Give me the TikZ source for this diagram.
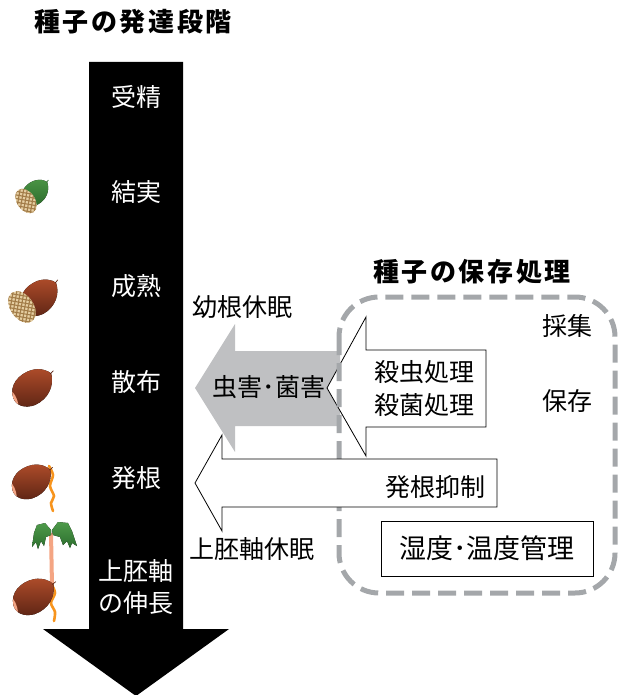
\documentclass[tikz,border=0pt]{standalone}
\usepackage{fontspec}
\setmainfont{Noto Sans CJK JP}

\definecolor{arrowgray}{HTML}{BFC0C2}
\definecolor{dashgray}{HTML}{A4A7AA}
\definecolor{seedtop}{HTML}{AE4C2A}
\definecolor{seedbot}{HTML}{5C2414}
\definecolor{greentop}{HTML}{4A9444}
\definecolor{greenbot}{HTML}{2C6A2C}
\definecolor{hilum}{HTML}{F2A585}
\definecolor{leafA}{HTML}{4E9A4A}
\definecolor{leafB}{HTML}{2C6E2E}
\definecolor{capfill}{HTML}{E6CFA3}
\definecolor{capline}{HTML}{A27C48}
\definecolor{rootc}{HTML}{F7941D}
\definecolor{stemc}{HTML}{F4A583}

% outline of a seed, pointed end to the right, local units
\def\seedoutline{(-21,3) .. controls (-21,-10) and (-8,-18) .. (6,-17)
  .. controls (15,-16) and (21,-11) .. (23,-7)
  .. controls (22,5) and (12,16) .. (-3,17)
  .. controls (-14,17) and (-21,11) .. (-21,3) -- cycle}

% seed body: #1 light colour, #2 dark colour, #3 = 1 draws the hilum
\newcommand\seedbody[3]{%
  \fill[top color=#1, bottom color=#2] \seedoutline;
  \ifnum#3=1
    \begin{scope}
      \clip \seedoutline;
      \fill[hilum] (-23,6) ellipse (5 and 12);
    \end{scope}
  \fi
  \draw[#2, line width=0.7pt] (22,-7) -- (26,-9);
}

% woven seed coat cap
\newcommand\seedcap[2]{%
  \fill[capfill] (0,0) ellipse (#1 and #2);
  \begin{scope}
    \clip (0,0) ellipse (#1 and #2);
    \foreach \k in {-36,-31,...,36} {
      \draw[capline, line width=1.1pt] (\k-20,-20) -- (\k+20,20);
      \draw[capline, line width=1.1pt] (\k-20,20) -- (\k+20,-20);
    }
  \end{scope}
}

\tikzset{
  lbl/.style={font=\fontsize{25}{33}\selectfont, inner sep=0pt, align=center},
  stagelbl/.style={lbl, text=white},
  ttl/.style={font=\fontsize{26}{30}\selectfont\bfseries\addfontfeature{LetterSpace=10},
    inner sep=0pt},
  outlinearrow/.style={fill=white, draw=black, line width=0.8pt},
  root/.style={rootc, line width=2.6pt, line cap=round},
  leaf/.style={top color=leafA, bottom color=leafB},
}

\begin{document}
\begin{tikzpicture}[x=1pt, y=-1pt]
\useasboundingbox (0,0) rectangle (619,695);

% development stages: big black arrow
\fill[black] (89,62) -- (183,62) -- (183,629) -- (229,629) -- (136,696)
  -- (43,629) -- (89,629) -- cycle;

\node[ttl] (title1) at (133,22) {種子の発達段階};
\node[stagelbl] (s1) at (136,97) {受精};
\node[stagelbl] (s2) at (136,192) {結実};
\node[stagelbl] (s3) at (136,286) {成熟};
\node[stagelbl] (s4) at (136,382) {散布};
\node[stagelbl] (s5) at (136,478) {発根};
\node[stagelbl, font=\fontsize{25}{32}\selectfont] (s6) at (136,587) {上胚軸\\の伸長};

% seed icons
% fruiting: green seed with cap
\begin{scope}[shift={(35,193)}, rotate=25, scale=0.68]
  \seedbody{greentop}{greenbot}{0}
\end{scope}
\begin{scope}[shift={(26,201)}, rotate=-55]
  \seedcap{13.5}{9}
\end{scope}
% ripening: brown seed with cap
\begin{scope}[shift={(39,298)}, rotate=25, scale=0.95]
  \seedbody{seedtop}{seedbot}{0}
\end{scope}
\begin{scope}[shift={(22,307)}, rotate=-55]
  \seedcap{17.5}{11.5}
\end{scope}
% dispersal
\begin{scope}[shift={(32,388)}, rotate=20]
  \seedbody{seedtop}{seedbot}{1}
\end{scope}
% rooting
\draw[root] plot[smooth] coordinates {(49,466) (53,475) (50,486) (54,496) (51,503) (53,511)};
\begin{scope}[shift={(31,482)}, rotate=15, scale=0.95]
  \seedbody{seedtop}{seedbot}{1}
\end{scope}
% epicotyl growth: seedling
\draw[stemc, line width=4pt] (51,533) -- (52,586);
\fill[leaf] (51,530) -- (45,523) -- (37,525) -- (34,533) -- (32,547) -- (36,542)
  -- (38,549) -- (41,541) -- (44,546) -- (46,537) -- (51,535) -- cycle;
\fill[leaf] (52,530) -- (58,522) -- (68,523) -- (72,531) -- (77,546) -- (72,543)
  -- (70,548) -- (67,541) -- (63,545) -- (60,537) -- (53,535) -- cycle;
\draw[root] plot[smooth] coordinates {(52,585) (55,593) (51,603) (55,612) (54,621)};
\begin{scope}[shift={(33,597)}, rotate=15]
  \seedbody{seedtop}{seedbot}{1}
\end{scope}

% pest damage arrow
\fill[arrowgray] (195,388) -- (235,324) -- (235,351) -- (340,351) -- (340,426)
  -- (235,426) -- (235,452) -- cycle;
% pest control arrow
\draw[outlinearrow] (327,388) -- (366,317) -- (366,350) -- (486,350) -- (486,427)
  -- (366,427) -- (366,456) -- cycle;

% storage treatment frame
\draw[dashgray, line width=5pt, dash pattern=on 18pt off 8pt, rounded corners=40pt]
  (339,297) rectangle (615,593);

% rooting suppression arrow
\draw[outlinearrow] (195,483) -- (222,435) -- (222,459) -- (497,459) -- (497,507)
  -- (222,507) -- (222,531) -- cycle;

\node[lbl, draw=black, line width=0.8pt, minimum width=212pt, minimum height=55pt,
  font=\fontsize{27}{33}\selectfont] (kanri) at (487,548.5) {湿度･温度管理};

\node[ttl] (title2) at (472,272) {種子の保存処理};
\node[lbl] (yokon) at (242,307) {幼根休眠};
\node[lbl] (saishu) at (567,326) {採集};
\node[lbl] (hozon) at (567,401) {保存};
\node[lbl] (gai) at (269,387) {虫害･菌害};
\node[lbl] (shori) at (424,388.5) {殺虫処理\\殺菌処理};
\node[lbl] (yokusei) at (435,487) {発根抑制};
\node[lbl] (jouhai) at (252,549) {上胚軸休眠};

\end{tikzpicture}
\end{document}
